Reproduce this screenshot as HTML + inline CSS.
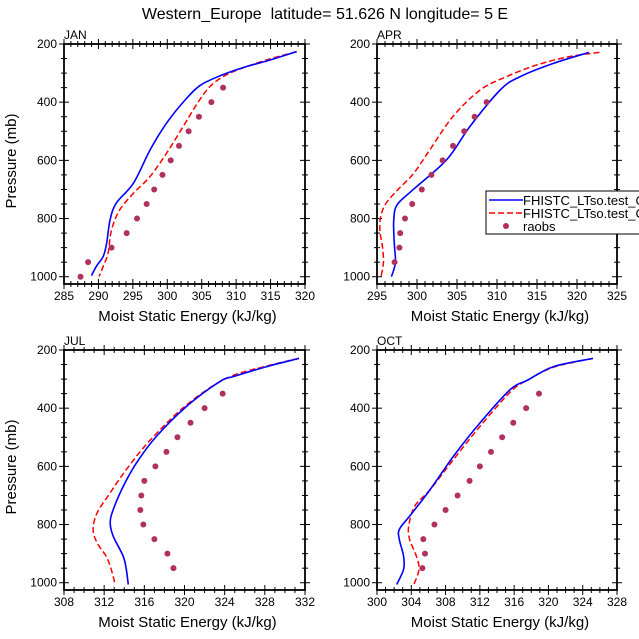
<!DOCTYPE html>
<html><head><meta charset="utf-8"><style>
body{margin:0;background:#fff}
svg{display:block;font-family:"Liberation Sans",Arial,sans-serif}
</style></head><body>
<svg id="c" width="639" height="639" viewBox="0 0 639 639">
<text x="325" y="19" text-anchor="middle" font-size="16">Western_Europe&#160; latitude= 51.626 N longitude= 5 E</text>
</svg>
<script>
// ---- data ----
const panelNames = ["JAN","APR","JUL","OCT"];
const xRanges = [[285,320],[295,325],[308,332],[300,328]];
const xTickVals = [[285,290,295,300,305,310,315,320],[295,300,305,310,315,320,325],[308,312,316,320,324,328,332],[300,304,308,312,316,320,324,328]];
const yTickVals = [200,400,600,800,1000];
const janBlue=[[318.8,226],[314.5,258],[311.0,281],[307.8,308],[304.8,342],[302.6,392],[299.9,472],[297.5,564],[295.1,678],[292.6,747],[291.7,804],[291.2,884],[290.7,930],[289.7,964],[289.0,996]];
const janRed=[[318.8,226],[314.4,255],[309.6,295],[306.7,335],[304.7,392],[302.3,484],[299.9,575],[297.5,655],[295.1,713],[293.1,770],[291.9,839],[291.4,919],[290.7,964],[290.1,999]];
const janObs=[[287.4,1000],[288.5,950],[291.9,900],[294.1,850],[295.6,800],[297.0,750],[298.1,700],[299.3,650],[300.5,600],[301.7,550],[303.1,500],[304.6,450],[306.4,400],[308.1,350]];
const aprBlue=[[321.5,229],[317.1,266],[312.9,312],[310.4,358],[306.6,484],[303.7,598],[299.5,701],[297.5,753],[297.1,804],[297.1,850],[297.2,901],[297.3,953],[296.8,1000]];
const aprRed=[[322.8,229],[319.1,243],[315.0,272],[311.2,312],[307.9,358],[304.5,449],[301.6,564],[299.6,644],[297.6,701],[296.0,753],[295.4,804],[295.4,850],[295.7,901],[295.8,953],[295.5,1000]];
const aprObs=[[297.2,950],[297.8,900],[297.9,850],[298.5,800],[299.4,750],[300.6,700],[301.8,650],[303.2,600],[304.5,550],[305.9,500],[307.2,450],[308.7,400]];
const julBlue=[[331.4,229],[328.2,257],[324.9,291],[323.5,309],[320.2,394],[317.2,497],[315.2,589],[313.9,669],[312.9,749],[312.6,794],[312.9,840],[313.9,909],[314.2,954],[314.4,1006]];
const julRed=[[331.4,229],[328.2,255],[324.2,297],[320.2,389],[316.6,509],[314.2,611],[312.6,691],[311.3,760],[310.9,817],[311.3,863],[312.2,909],[312.7,954],[313.1,1006]];
const julObs=[[318.9,950],[318.3,900],[317.0,850],[315.9,800],[315.6,750],[315.7,700],[316.0,650],[317.1,600],[318.2,550],[319.3,500],[320.6,450],[322.0,400],[323.8,350]];
const octBlue=[[325.2,229],[320.6,257],[317.6,303],[315.5,337],[312.0,451],[308.9,566],[306.2,680],[303.8,771],[302.6,817],[302.6,851],[303.1,909],[303.1,954],[302.3,1006]];
const octRed=[[325.2,229],[320.6,259],[317.6,303],[315.6,343],[312.0,463],[308.9,577],[306.2,680],[304.4,737],[303.7,806],[303.8,851],[304.6,909],[304.9,954],[304.3,1006]];
const octObs=[[305.3,950],[305.6,900],[305.4,850],[306.7,800],[308.0,750],[309.4,700],[310.8,650],[312.0,600],[313.3,550],[314.6,500],[315.9,450],[317.4,400],[318.9,350]];
const blueSeries=[janBlue,aprBlue,julBlue,octBlue];
const redSeries=[janRed,aprRed,julRed,octRed];
const obsSeries=[janObs,aprObs,julObs,octObs];
const legendLabels=["FHISTC_LTso.test_C","FHISTC_LTso.test_C","raobs"];

const NS="http://www.w3.org/2000/svg";
const svg=document.getElementById('c');
function mk(tag,attrs,parent){const e=document.createElementNS(NS,tag);for(const k in attrs)e.setAttribute(k,attrs[k]);(parent||svg).appendChild(e);return e;}
function smooth(P){
  let d='M'+P[0][0].toFixed(1)+','+P[0][1].toFixed(1);
  for(let k=0;k<P.length-1;k++){
    const p0=P[k-1]||P[k],p1=P[k],p2=P[k+1],p3=P[k+2]||P[k+1];
    const c1=[p1[0]+(p2[0]-p0[0])/6,p1[1]+(p2[1]-p0[1])/6];
    const c2=[p2[0]-(p3[0]-p1[0])/6,p2[1]-(p3[1]-p1[1])/6];
    d+=` C${c1[0].toFixed(1)},${c1[1].toFixed(1)} ${c2[0].toFixed(1)},${c2[1].toFixed(1)} ${p2[0].toFixed(1)},${p2[1].toFixed(1)}`;
  }
  return d;
}
const boxes=[[64,44,305,284],[377,44,617,284],[64,350,305,590],[377,350,617,590]];
for(let i=0;i<4;i++){
  const [L,T,R,B]=boxes[i];
  const [x0,x1]=xRanges[i];
  const g=mk('g',{});
  
  
  const y200=T, y1000=T+(B-T)*800/825;
  const xs=v=>L+(v-x0)/(x1-x0)*(R-L);
  const ys=p=>y200+(p-200)*(y1000-y200)/800;
  for(let v=x0;v<=x1+1e-9;v+=1){
    const major=xTickVals[i].some(t=>Math.abs(t-v)<1e-6);
    const l=major?5:3;
    mk('line',{x1:xs(v),x2:xs(v),y1:B-l,y2:B+l,stroke:'#000','stroke-width':1},g);
    mk('line',{x1:xs(v),x2:xs(v),y1:T-l,y2:T+l,stroke:'#000','stroke-width':1},g);
  }
  for(let p=200;p<=1000;p+=50){
    const major=p%200===0;const l=major?5:3;
    mk('line',{x1:L-l,x2:L+l,y1:ys(p),y2:ys(p),stroke:'#000','stroke-width':1},g);
    mk('line',{x1:R-l,x2:R+l,y1:ys(p),y2:ys(p),stroke:'#000','stroke-width':1},g);
  }
  xTickVals[i].forEach(v=>{const t=mk('text',{x:xs(v),y:B+16,'text-anchor':'middle','font-size':12},g);t.textContent=v;
    
    });
  yTickVals.forEach(p=>{const t=mk('text',{x:L-7,y:ys(p)+4,'text-anchor':'end','font-size':12},g);t.textContent=p;
    
    });
  const lab=mk('text',{x:L,y:T-5,'font-size':12},g);lab.textContent=panelNames[i];
  
  
  const xt=mk('text',{x:(L+R)/2+3,y:B+37,'text-anchor':'middle','font-size':15},g);xt.textContent='Moist Static Energy (kJ/kg)';
  
  
  if(i%2===0){const yt=mk('text',{x:0,y:0,'text-anchor':'middle','font-size':15,transform:`translate(16,${(T+B)/2-3}) rotate(-90)`},g);yt.textContent='Pressure (mb)';
    
    }
  const pts=d=>d.map(a=>[xs(a[0]),ys(a[1])]);
  const r=mk('path',{d:smooth(pts(redSeries[i])),fill:'none',stroke:'#ff0000','stroke-width':1.5,'stroke-dasharray':'6,3','stroke-linejoin':'round'},g);
  
  
  const b=mk('path',{d:smooth(pts(blueSeries[i])),fill:'none',stroke:'#0000ff','stroke-width':1.6,'stroke-linejoin':'round'},g);
  
  
  obsSeries[i].forEach(a=>{const c=mk('circle',{cx:xs(a[0]),cy:ys(a[1]),r:3,fill:'#b0305f'},g);
    
    });
  mk('rect',{x:L,y:T,width:R-L,height:B-T,fill:'none',stroke:'#000','stroke-width':1.8},g);
}
const lg=mk('g',{});


mk('rect',{x:486,y:191,width:160,height:43,fill:'#fff',stroke:'#000','stroke-width':1},lg);
mk('line',{x1:489,x2:523,y1:200,y2:200,stroke:'#0000ff','stroke-width':1.6},lg);
mk('line',{x1:489,x2:523,y1:213,y2:213,stroke:'#ff0000','stroke-width':1.5,'stroke-dasharray':'6,3'},lg);
mk('circle',{cx:506,cy:226,r:3,fill:'#b0305f'},lg);
legendLabels.forEach((s,k)=>{const t=mk('text',{x:523,y:205+k*13,'font-size':13},lg);t.textContent=s;
  
  });
</script>
</body></html>
